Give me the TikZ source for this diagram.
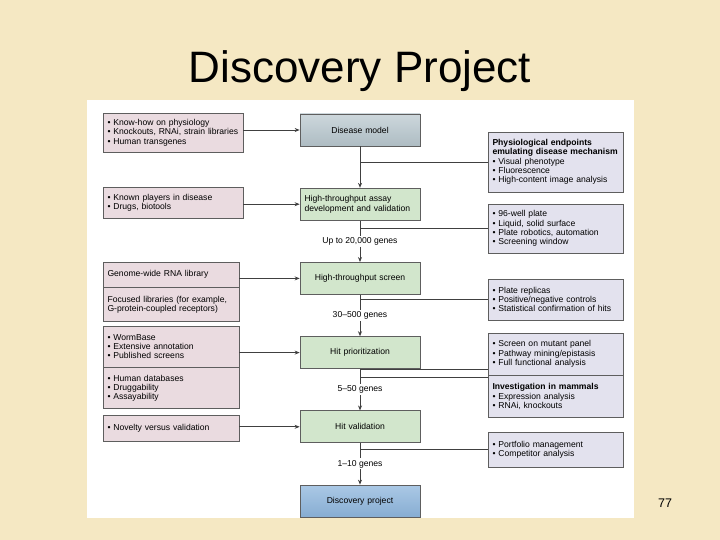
\documentclass[tikz,border=0pt]{standalone}
\usepackage{fontspec}
\setmainfont{Liberation Sans}
\usepackage{xcolor}
\usetikzlibrary{arrows.meta,positioning,calc}
\definecolor{pageBeige}{HTML}{F5E8C3}
\definecolor{leftPink}{HTML}{EADBE0}
\definecolor{midGreen}{HTML}{D2E6CC}
\definecolor{diseaseBlue}{HTML}{B7C6CD}
\definecolor{discBlue}{HTML}{8EB6DD}
\definecolor{rightLilac}{HTML}{E3E2EE}
\definecolor{edgeGray}{HTML}{5E5E5E}
\definecolor{lineGray}{HTML}{404040}

\newcommand{\itm}{\textbullet\ }
\newcommand{\boxfont}{\fontsize{8.6}{9.3}\selectfont}

\begin{document}
\begin{tikzpicture}[x=1pt,y=-1pt,
    node distance=41.5pt,
    lbox/.style={draw=edgeGray,fill=leftPink,line width=0.7pt,align=left,font=\boxfont,text width=131pt,inner xsep=4.5pt,inner ysep=3pt},
    lboxg/.style={lbox,text width=127pt},
    mbox/.style={draw=edgeGray,fill=midGreen,line width=0.7pt,align=center,font=\boxfont,text width=111pt,inner xsep=4.5pt,minimum height=32pt},
    rbox/.style={draw=edgeGray,fill=rightLilac,line width=0.7pt,align=left,font=\boxfont,text width=126pt,inner xsep=4.5pt,inner ysep=3pt},
    genes/.style={font=\boxfont,inner sep=1.5pt},
    arrow/.style={-{Stealth[length=5pt,width=4pt]},line width=0.9pt,draw=lineGray},
    link/.style={line width=0.9pt,draw=lineGray}
  ]
    \fill[pageBeige] (0,0) rectangle (720,540);
    \useasboundingbox (0,0) rectangle (720,540);
    \fill[white] (87,100) rectangle (634,518);

    \node[font=\fontsize{44}{50}\selectfont,anchor=base] (title) at (360,83) {Discovery Project};
    \node[font=\fontsize{12.5}{14}\selectfont] (pagenum) at (665,503) {77};

    % left column
    \node[lbox,minimum height=39pt] (knowhow) at (173,132.5)
      {\itm Know-how on physiology\\\itm Knockouts, RNAi, strain libraries\\\itm Human transgenes};
    \node[lbox,minimum height=31pt] (players) at (173,202.5)
      {\itm Known players in disease\\\itm Drugs, biotools};
    \node[lboxg,minimum height=25pt] (rnalib) at (171,274.5) {Genome-wide RNA library};
    \node[lboxg,minimum height=34pt,below=0pt of rnalib] (focused)
      {Focused libraries (for example,\\G-protein-coupled receptors)};
    \node[lboxg,minimum height=41pt] (wormbase) at (171,346.5)
      {\itm WormBase\\\itm Extensive annotation\\\itm Published screens};
    \node[lboxg,minimum height=41pt,below=0pt of wormbase] (humandb)
      {\itm Human databases\\\itm Druggability\\\itm Assayability};
    \node[lboxg,minimum height=26pt] (novelty) at (171,428) {\itm Novelty versus validation};

    % middle column
    \node[mbox,top color=diseaseBlue!70!white,bottom color=diseaseBlue!95!black] (disease) at (360,130) {Disease model};
    \node[mbox,align=left,below=of disease] (assay) {High-throughput assay\\development and validation};
    \node[mbox,below=of assay] (screen) {High-throughput screen};
    \node[mbox,below=of screen] (hitprio) {Hit prioritization};
    \node[mbox,below=of hitprio] (hitval) {Hit validation};
    \node[mbox,top color=discBlue!75!white,bottom color=discBlue!95!black,below=of hitval] (discovery) {Discovery project};

    \node[genes] (g20000) at ($(assay.south)!0.5!(screen.north)$) {Up to 20,000 genes};
    \node[genes] (g500) at ($(screen.south)!0.5!(hitprio.north)$) {30--500 genes};
    \node[genes] (g50) at ($(hitprio.south)!0.5!(hitval.north)$) {5--50 genes};
    \node[genes] (g10) at ($(hitval.south)!0.5!(discovery.north)$) {1--10 genes};

    % right column
    \node[rbox,minimum height=60pt] (physio) at (555.5,162)
      {\textbf{Physiological endpoints}\\\textbf{emulating disease mechanism}\\\itm Visual phenotype\\\itm Fluorescence\\\itm High-content image analysis};
    \node[rbox,minimum height=49pt] (plate96) at (555.5,228.5)
      {\itm 96-well plate\\\itm Liquid, solid surface\\\itm Plate robotics, automation\\\itm Screening window};
    \node[rbox,minimum height=41pt] (replicas) at (555.5,299.5)
      {\itm Plate replicas\\\itm Positive/negative controls\\\itm Statistical confirmation of hits};
    \node[rbox,minimum height=42pt] (mutant) at (555.5,354)
      {\itm Screen on mutant panel\\\itm Pathway mining/epistasis\\\itm Full functional analysis};
    \node[rbox,minimum height=42pt,below=0pt of mutant] (mammals)
      {\textbf{Investigation in mammals}\\\itm Expression analysis\\\itm RNAi, knockouts};
    \node[rbox,minimum height=35pt] (portfolio) at (555.5,449.5)
      {\itm Portfolio management\\\itm Competitor analysis};

    % inputs from the left
    \draw[arrow] (knowhow.east |- disease.west) -- (disease.west);
    \draw[arrow] (players.east |- assay.west) -- (assay.west);
    \draw[arrow] (rnalib.east |- screen.west) -- (screen.west);
    \draw[arrow] (wormbase.east |- hitprio.west) -- (hitprio.west);
    \draw[arrow] (novelty.east |- hitval.west) -- (hitval.west);

    % main flow
    \draw[arrow] (disease) -- (assay);
    \draw[link] (assay) -- (g20000);
    \draw[arrow] (g20000) -- (screen);
    \draw[link] (screen) -- (g500);
    \draw[arrow] (g500) -- (hitprio);
    \draw[link] (hitprio) -- (g50);
    \draw[arrow] (g50) -- (hitval);
    \draw[link] (hitval) -- (g10);
    \draw[arrow] (g10) -- (discovery);

    % branches to the right
    \draw[link] (disease.south |- physio.west) -- (physio.west);
    \draw[link] (assay.south |- plate96.west) -- (plate96.west);
    \draw[link] (screen.south |- replicas.west) -- (replicas.west);
    \draw[link] ([yshift=6pt]hitprio.south |- mutant.south west) -- ([yshift=6pt]mutant.south west);
    \draw[link] ([yshift=-2pt]hitprio.south |- mammals.north west) -- ([yshift=-2pt]mammals.north west);
    \draw[link] (hitval.south |- portfolio.west) -- (portfolio.west);
  \end{tikzpicture}
\end{document}
